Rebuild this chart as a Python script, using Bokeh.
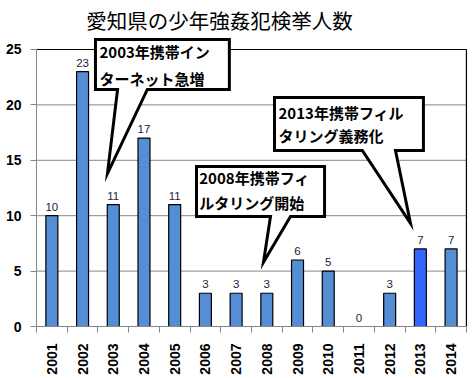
from math import pi
from bokeh.plotting import figure
from bokeh.models import (ColumnDataSource, Range1d, FixedTicker,
                          PolyAnnotation, Label)
from bokeh.core.properties import value
from bokeh.embed import file_html
from bokeh.resources import INLINE

# ---- data ----
years = ["2001", "2002", "2003", "2004", "2005", "2006", "2007",
         "2008", "2009", "2010", "2011", "2012", "2013", "2014"]
counts = [10, 23, 11, 17, 11, 3, 3, 3, 6, 5, 0, 3, 7, 7]
y_ticks = [0, 5, 10, 15, 20, 25]
y_max = 25
title_text = "愛知県の少年強姦犯検挙人数"
highlight_year = "2013"

# callouts: text lines, box (left, right, top, bottom), tail base (xl, xr), tip (x, y)
callouts = [
    dict(lines=["2003年携帯イン", "ターネット急増"],
         box=(1.92, 6.28, 25.9, 21.39), base=(2.64, 3.61), tip=(2.31, 13.8),
         text_x=2.05, text_y=[24.8, 22.35]),
    dict(lines=["2008年携帯フィ", "ルタリング開始"],
         box=(5.21, 9.38, 14.44, 9.93), base=(7.62, 8.27), tip=(7.39, 5.8),
         text_x=5.3, text_y=[13.45, 11.2]),
    dict(lines=["2013年携帯フィル", "タリング義務化"],
         box=(7.75, 12.6, 20.67, 15.88), base=(10.61, 11.69), tip=(12.18, 9.3),
         text_x=7.88, text_y=[19.3, 17.25]),
]

BAR = "#558ED5"
HI = "#3366FF"
GRID = "#868686"

n = len(years)
xs = [i + 0.5 for i in range(n)]
colors = [HI if y == highlight_year else BAR for y in years]
src = ColumnDataSource(dict(x=xs, top=counts, color=colors,
                            label=[str(c) for c in counts]))

p = figure(width=474, height=378, output_backend="svg", toolbar_location=None,
           title=None,
           x_range=Range1d(0, n + 0.1), y_range=Range1d(0, 29.42),
           min_border_left=36, min_border_right=5, min_border_top=0,
           min_border_bottom=52)
p.outline_line_color = None
p.background_fill_color = "white"
p.xgrid.grid_line_color = None
p.ygrid.grid_line_color = None

# grid lines from the y ticks, limited to the plotting box
p.segment(x0=0, x1=n, y0=y_ticks[1:], y1=y_ticks[1:], line_color=GRID, line_width=1)
# box border (top and right)
p.segment(x0=[0, n], x1=[n, n], y0=[y_max, 0], y1=[y_max, y_max],
          line_color="black", line_width=1.2)

p.vbar(x="x", top="top", width=0.39, source=src, fill_color="color",
       line_color="black", line_width=1.2)
p.text(x="x", y="top", text="label", source=src, text_align="center",
       text_baseline="bottom", y_offset=-5, text_font=value("Liberation Sans"),
       text_font_size="11.5px", text_color="#1c1c40")

# title
p.add_layout(Label(x=5.96, y=27.62, text=title_text, text_align="center",
                   text_baseline="middle", text_font="Noto Sans CJK JP",
                   text_font_size="20.5px", text_color="black"))

# axes
xa = p.xaxis[0]
xa.bounds = (0, n)
xa.ticker = FixedTicker(ticks=xs, minor_ticks=list(range(n + 1)))
xa.major_label_overrides = {x: y for x, y in zip(xs, years)}
xa.major_label_orientation = pi / 2
xa.major_tick_line_color = None
xa.major_tick_out = 0
xa.major_tick_in = 0
xa.minor_tick_out = 6
xa.minor_tick_in = 0
xa.minor_tick_line_color = GRID
xa.axis_line_color = GRID
xa.major_label_standoff = 11
xa.major_label_text_font = "Liberation Sans"
xa.major_label_text_font_style = "bold"
xa.major_label_text_font_size = "14px"
xa.major_label_text_color = "black"

ya = p.yaxis[0]
ya.bounds = (0, y_max)
ya.ticker = FixedTicker(ticks=y_ticks)
ya.major_tick_out = 6
ya.major_tick_in = 0
ya.minor_tick_line_color = None
ya.major_tick_line_color = GRID
ya.axis_line_color = GRID
ya.major_label_standoff = 9
ya.major_label_text_font = "Liberation Sans"
ya.major_label_text_font_style = "bold"
ya.major_label_text_font_size = "14px"
ya.major_label_text_color = "black"

# callouts
for c in callouts:
    L, R, T, B = c["box"]
    bl, br = c["base"]
    tx, ty = c["tip"]
    poly = PolyAnnotation(xs=[L, R, R, br, tx, bl, L], ys=[T, T, B, B, ty, B, B],
                          fill_color="white", fill_alpha=1.0,
                          line_color="black", line_alpha=1.0, line_width=3,
                          line_join="miter", level="overlay")
    p.add_layout(poly)
    for line, yy in zip(c["lines"], c["text_y"]):
        p.add_layout(Label(x=c["text_x"], y=yy, text=line, text_align="left",
                           text_baseline="middle", text_font="Noto Sans CJK JP",
                           text_font_style="bold", text_font_size="15px",
                           text_color="black", level="overlay"))

open("out.html", "w").write(file_html(p, INLINE))
